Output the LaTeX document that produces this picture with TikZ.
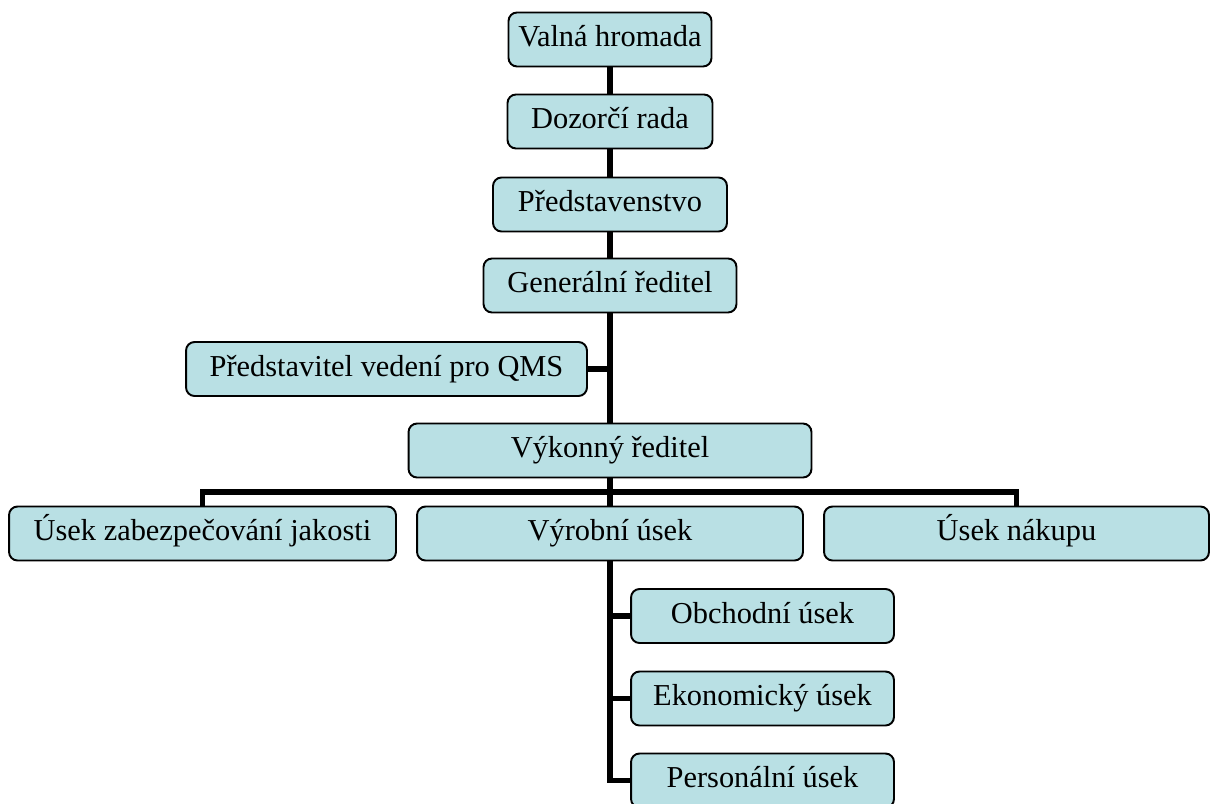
\documentclass[tikz,border=0pt]{standalone}
\usepackage{fontspec}
\setmainfont{Liberation Serif}
\usepackage{tikz}
\usetikzlibrary{
  calc,%
  positioning
}
\definecolor{boxfill}{RGB}{185,224,228}
\tikzset{font=\fontsize{17.3}{20}\selectfont}
\tikzset{
  unit/.style={draw=black, fill=boxfill, line width=1.1pt, rounded corners=0.17cm,
    minimum height=1.08cm, inner sep=0pt, text height=10.5pt, text depth=2pt},
  link/.style={line width=2.9pt, line join=miter}
}

\begin{document}
\begin{tikzpicture}[x=0.02cm, y=-0.02cm]
        \useasboundingbox (0, 0) rectangle (1213, 804); %
        % top chain
        \node[unit, minimum width=4.06cm] (valna) at (610, 39.5) {Valná hromada}; %
        \node[unit, minimum width=4.1cm] (dozor) at (610, 121.5) {Dozorčí rada}; %
        \node[unit, minimum width=4.68cm] (predst) at (610, 204.5) {Představenstvo}; %
        \node[unit, minimum width=5.06cm] (gen) at (610, 285.5) {Generální ředitel}; %
        \node[unit, minimum width=8.02cm] (qms) at (386.5, 369) {Představitel vedení pro QMS}; %
        \node[unit, minimum width=8.06cm] (vyk) at (610, 450.5) {Výkonný ředitel}; %
        % divisions
        \node[unit, minimum width=7.74cm] (jakost) at (202.5, 533.5) {Úsek zabezpečování jakosti}; %
        \node[unit, minimum width=7.72cm] (vyrob) at (610, 533.5) {Výrobní úsek}; %
        \node[unit, minimum width=7.7cm] (nakup) at (1016.5, 533.5) {Úsek nákupu}; %
        \node[unit, minimum width=5.26cm] (obch) at (762.5, 616) {Obchodní úsek}; %
        \node[unit, minimum width=5.26cm] (ekon) at (762.5, 698.5) {Ekonomický úsek}; %
        \node[unit, minimum width=5.26cm] (pers) at (762.5, 780.5) {Personální úsek}; %
        \coordinate (bar) at (610, 492); %
        % connectors
        \draw[link] (valna) -- (dozor); %
        \draw[link] (dozor) -- (predst); %
        \draw[link] (predst) -- (gen); %
        \draw[link] (gen) -- (vyk); %
        \draw[link] (qms.east) -- (qms.east -| gen.south); %
        \draw[link] (vyk) -- (vyrob); %
        \draw[link] (jakost.north) |- (bar) -| (nakup.north); %
        \draw[link] (vyrob.south) |- (pers.west); %
        \draw[link] (obch.west) -- (obch.west -| vyrob.south); %
        \draw[link] (ekon.west) -- (ekon.west -| vyrob.south); %
      \end{tikzpicture}
\end{document}
